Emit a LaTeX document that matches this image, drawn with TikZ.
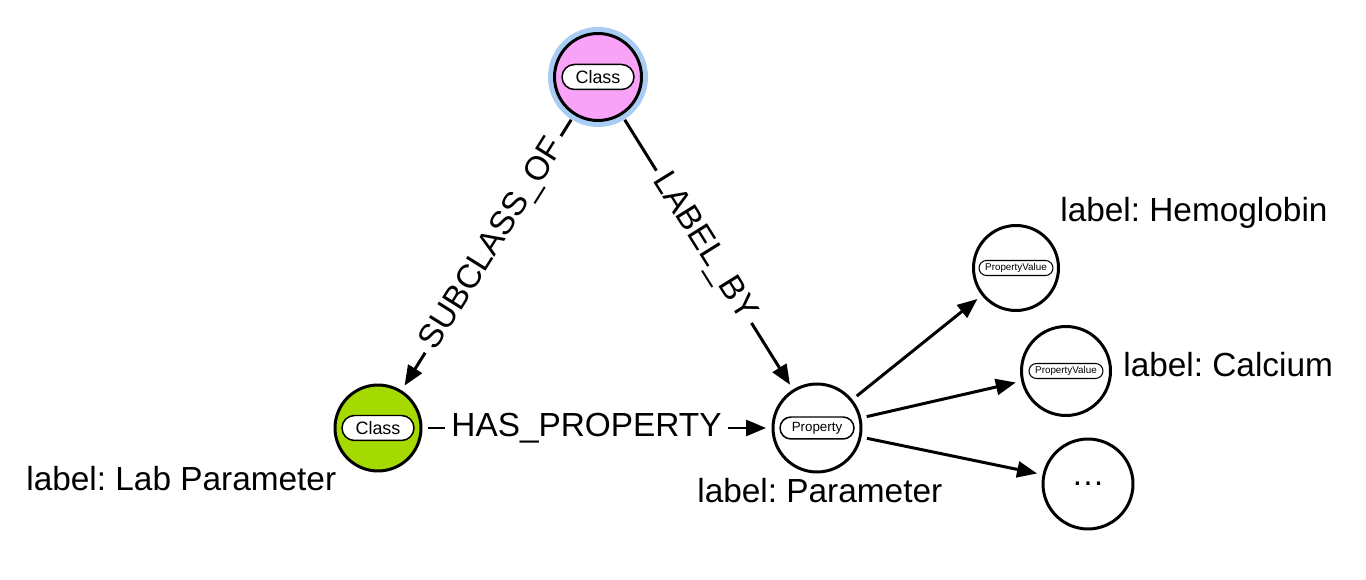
\documentclass[tikz,border=0pt]{standalone}
\usepackage{fontspec}
\setmainfont{Liberation Sans}
\frenchspacing
\usetikzlibrary{arrows.meta,shapes.misc}
\definecolor{classpink}{HTML}{F9A3F8}
\definecolor{classhalo}{HTML}{A8CCF4}
\definecolor{labgreen}{HTML}{A4DA00}

\begin{document}
\begin{tikzpicture}[
		x=0.02cm, y=-0.02cm,
		ent/.style={circle, draw, line width=1.7pt, fill=white, inner sep=0pt},
		pill/.style={rounded rectangle, draw, fill=white, line width=0.85pt, inner sep=0pt},
		lbl/.style={inner sep=0pt, anchor=base west, font=\fontsize{19}{23}\selectfont},
		rel/.style={line width=1.7pt, -{Triangle[length=0.4cm, width=0.32cm]}, shorten <=0.11cm, shorten >=0.11cm},
		rellbl/.style={fill=white, inner sep=3.5pt, font=\fontsize{19}{23}\selectfont},
	]
		\useasboundingbox (0,0) rectangle (1366,580);

		\node[ent, minimum size=1.74cm, fill=classpink, preaction={draw=classhalo, line width=0.26cm}] (top) at (598,77) {};
		\node[ent, minimum size=1.72cm, fill=labgreen] (sub) at (378,428) {};
		\node[ent, minimum size=1.76cm] (prop) at (817,428) {};
		\node[ent, minimum size=1.70cm] (pv1) at (1016,268) {};
		\node[ent, minimum size=1.78cm] (pv2) at (1066,371) {};
		\node[ent, minimum size=1.80cm, font=\fontsize{19}{23}\selectfont] (more) at (1088,484) {…};

		\node[pill, minimum width=1.44cm, minimum height=0.5cm, font=\fontsize{10.2}{12}\selectfont] (top-t) at (top) {Class};
		\node[pill, minimum width=1.44cm, minimum height=0.5cm, font=\fontsize{10.2}{12}\selectfont] (sub-t) at (sub) {Class};
		\node[pill, minimum width=1.48cm, minimum height=0.44cm, font=\fontsize{7.6}{9}\selectfont] (prop-t) at (prop) {Property};
		\node[pill, minimum width=1.48cm, minimum height=0.3cm, line width=0.6pt, font=\fontsize{5.6}{7}\selectfont] (pv1-t) at (pv1) {PropertyValue};
		\node[pill, minimum width=1.48cm, minimum height=0.3cm, line width=0.6pt, font=\fontsize{5.6}{7}\selectfont] (pv2-t) at (pv2) {PropertyValue};

		\node[lbl] (sub-l) at (26,491) {label: Lab Parameter};
		\node[lbl] (prop-l) at (697,503) {label: Parameter};
		\node[lbl] (pv1-l) at (1060,222) {label: Hemoglobin};
		\node[lbl] (pv2-l) at (1123,377) {label: Calcium};

		\draw[rel] (top) -- (sub) node[rellbl, sloped, pos=0.47] {SUBCLASS\_OF};
		\draw[rel] (top) -- (prop) node[rellbl, sloped, pos=0.48] {LABEL\_BY};
		\draw[rel] (sub) -- (prop) node[rellbl, pos=0.47] {HAS\_PROPERTY};
		\draw[rel] (prop) -- (pv1);
		\draw[rel] (prop) -- (pv2);
		\draw[rel] (prop) -- (more);
	\end{tikzpicture}
\end{document}
